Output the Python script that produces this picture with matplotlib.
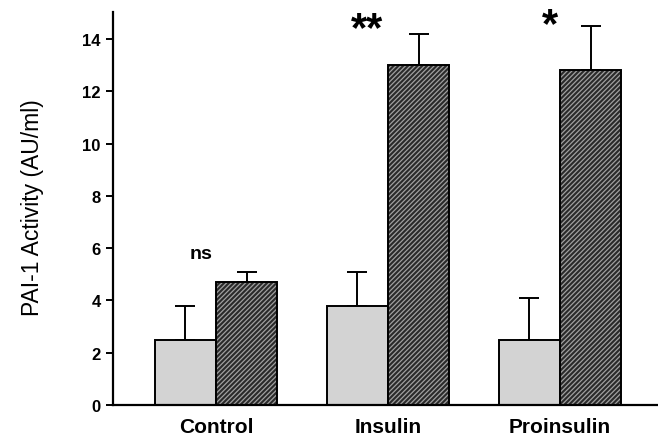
import matplotlib
matplotlib.use("Agg")
import matplotlib.pyplot as plt
import numpy as np

categories = ["Control", "Insulin", "Proinsulin"]
light_vals = [2.5, 3.8, 2.5]
light_err = [1.3, 1.3, 1.6]
dark_vals = [4.7, 13.0, 12.8]
dark_err = [0.4, 1.2, 1.7]
sig_labels = ["ns", "**", "*"]
yticks = [0, 2, 4, 6, 8, 10, 12, 14]

plt.rcParams['font.family'] = ['Liberation Sans', 'DejaVu Sans']
plt.rcParams['hatch.linewidth'] = 0.9

fig = plt.figure(figsize=(6.58, 4.39), dpi=100)
ax = fig.add_axes([113/658, 1-406/439, 1-113/658, (406-13)/439])

x = np.arange(len(categories))
w = 0.355

ax.bar(x - w/2, light_vals, width=w, color='#d3d3d3', edgecolor='black', linewidth=1.4, zorder=2)
ax.errorbar(x - w/2, light_vals, yerr=[np.zeros(3), light_err], fmt='none', ecolor='black',
            elinewidth=1.4, capsize=7, capthick=1.4, zorder=1)

ax.bar(x + w/2, dark_vals, width=w, color='#2a2a2a', edgecolor='#a0a0a0', linewidth=0, hatch='///////', zorder=2)
ax.bar(x + w/2, dark_vals, width=w, fill=False, edgecolor='black', linewidth=1.4, zorder=3)
ax.errorbar(x + w/2, dark_vals, yerr=[np.zeros(3), dark_err], fmt='none', ecolor='black',
            elinewidth=1.4, capsize=7, capthick=1.4, zorder=1)

ax.set_xlim((113-216)/172, (658-216)/172)
ax.set_ylim(0, 15.03)
ax.set_yticks(yticks)
ax.set_yticklabels([str(t) for t in yticks], fontsize=12, fontweight='bold')
ax.set_xticks(x)
ax.set_xticklabels(categories, fontsize=15, fontweight='bold')
ax.tick_params(axis='x', length=0, pad=8.5)
ax.tick_params(axis='y', length=5, width=1.4, pad=4)
for s in ['top', 'right']:
    ax.spines[s].set_visible(False)
ax.spines['left'].set_linewidth(1.6)
ax.spines['bottom'].set_linewidth(1.6)

fig.text(33/658, 1-208/439, "PAI-1 Activity (AU/ml)", rotation=90, ha='center', va='center',
         fontsize=16.5)

ax.text(x[0] - 0.087, 5.78, sig_labels[0], ha='center', va='center', fontsize=14, fontweight='bold')
ax.text(x[1] - 0.122, 13.97, sig_labels[1], ha='center', va='baseline', fontsize=30, fontweight='bold')
ax.text(x[2] - 0.058, 14.12, sig_labels[2], ha='center', va='baseline', fontsize=30, fontweight='bold')
for t in ax.texts:
    t.set_clip_on(False)

fig.savefig("out.png", dpi=100)
